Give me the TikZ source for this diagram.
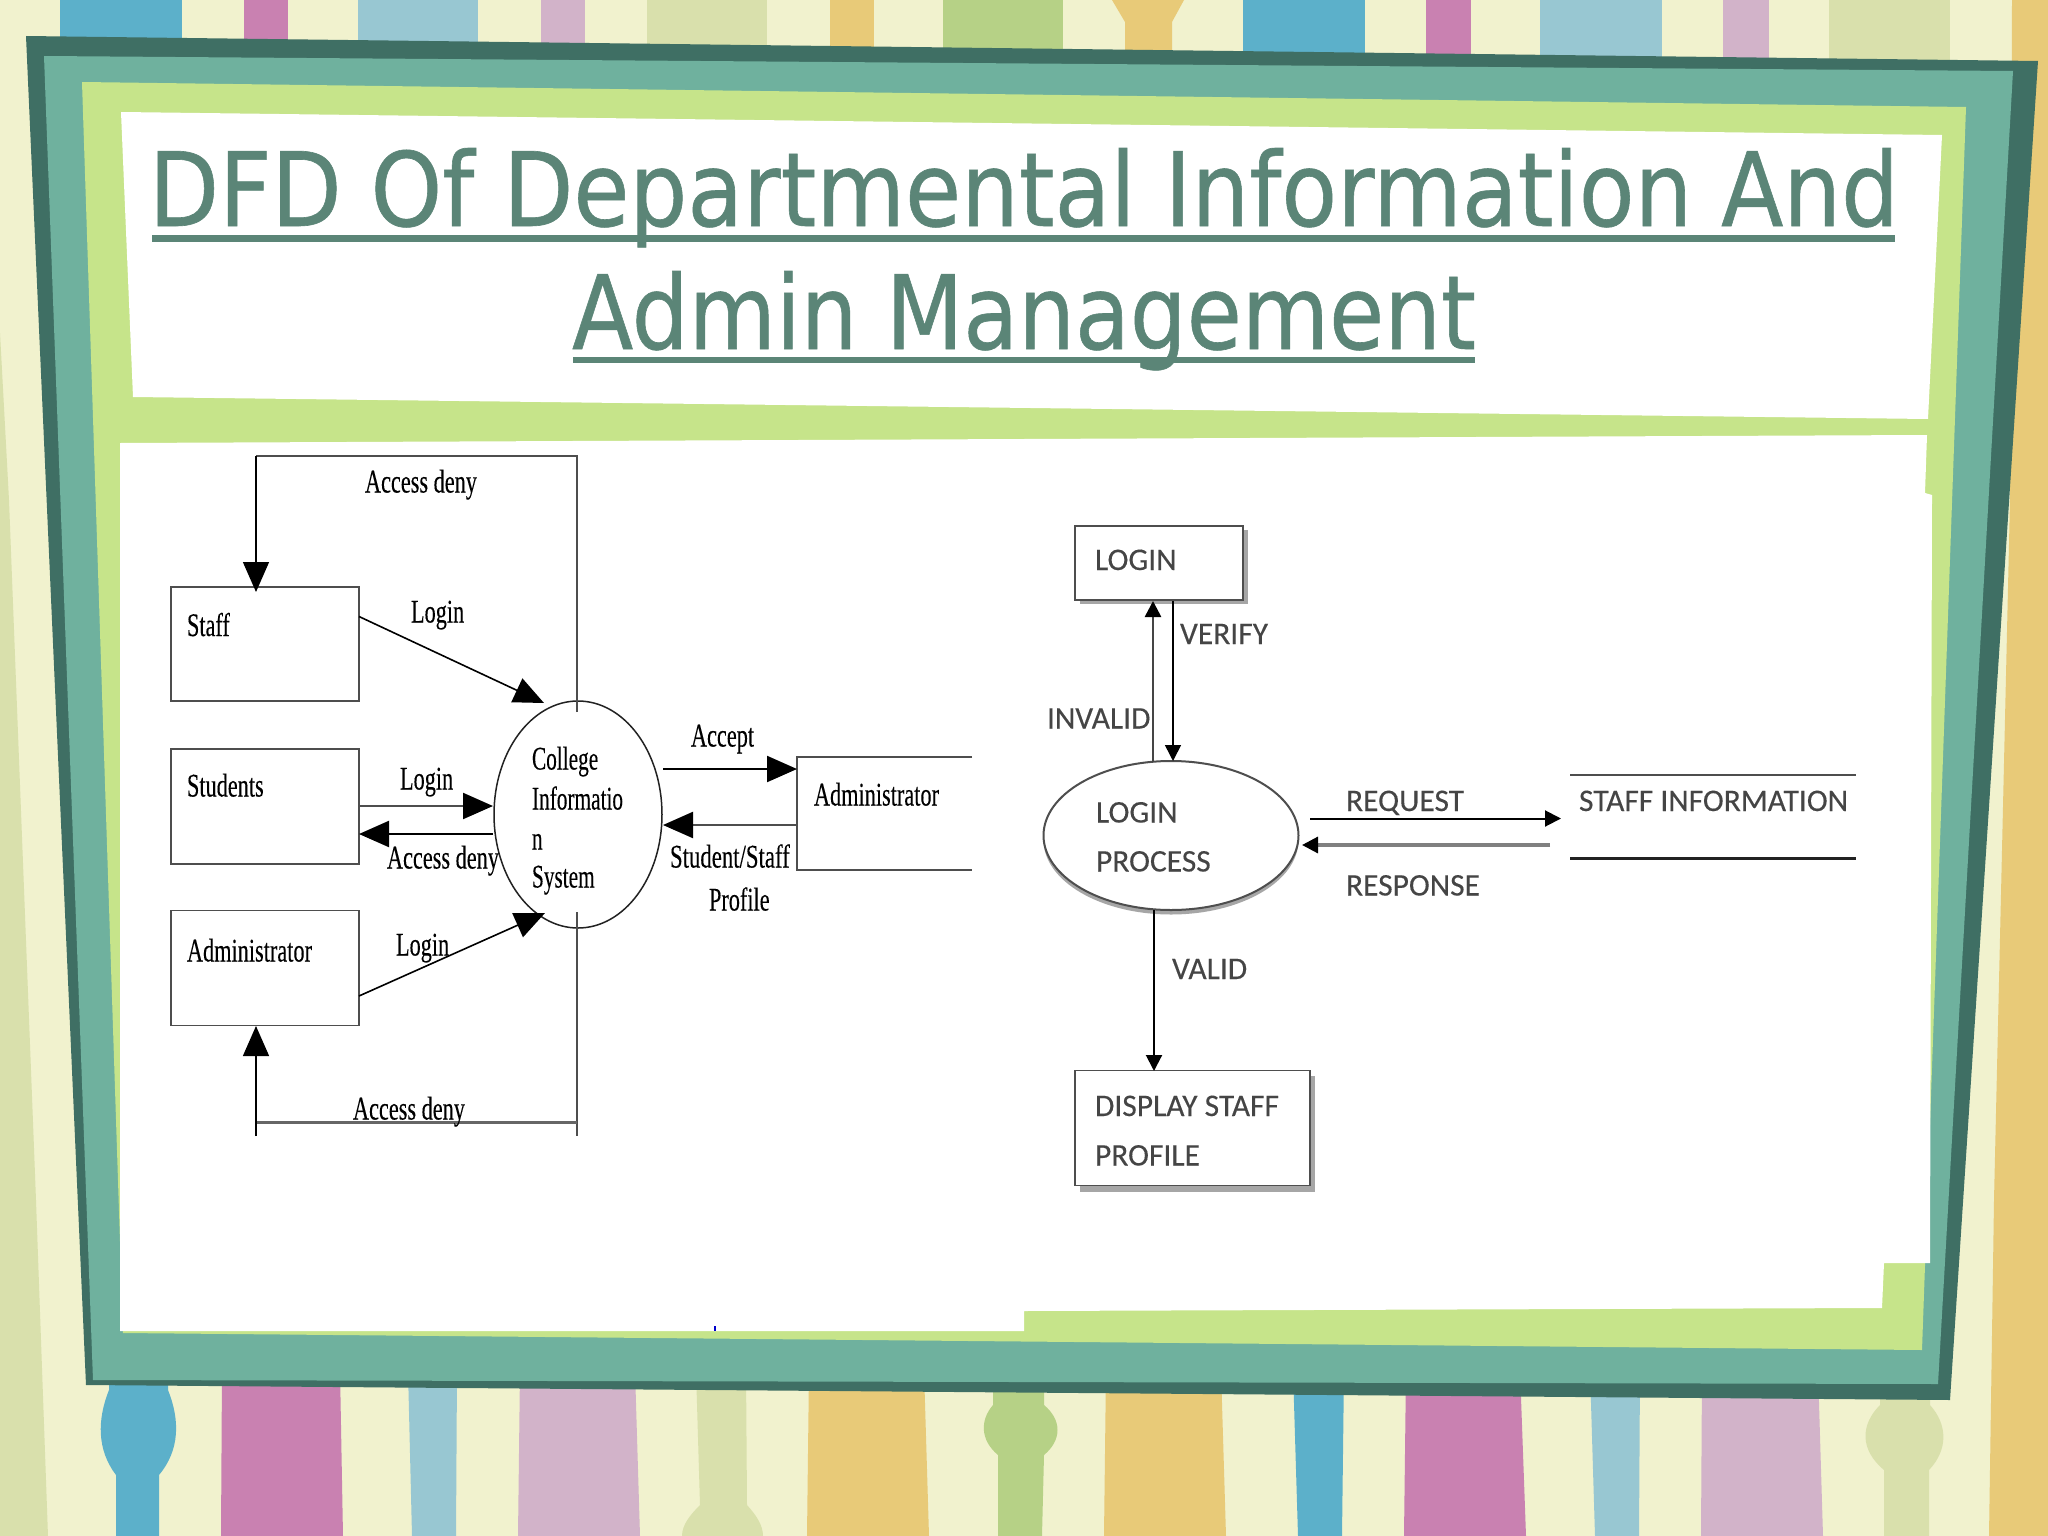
\documentclass[tikz,border=0pt]{standalone}
\usepackage{fontspec}
\usepackage{graphicx}
\setmainfont[FakeBold=0.25]{Liberation Serif}
\newfontfamily\titlefont[FakeBold=0.6]{DejaVu Sans}
\newfontfamily\calfont[FakeBold=0.2]{Carlito}
\usetikzlibrary{arrows.meta,shapes.geometric}
\definecolor{cream}{HTML}{F1F2CE}
\definecolor{sblue}{HTML}{5CB0CA}
\definecolor{spink}{HTML}{C981B1}
\definecolor{slblue}{HTML}{98C7D2}
\definecolor{smauve}{HTML}{D2B3C9}
\definecolor{ssage}{HTML}{D9E0AC}
\definecolor{sorange}{HTML}{E8CA78}
\definecolor{sgreen}{HTML}{B6D186}
\definecolor{framedark}{HTML}{3F6F64}
\definecolor{frameteal}{HTML}{6FB19E}
\definecolor{framegreen}{HTML}{C6E48A}
\definecolor{titlecol}{HTML}{5B8577}
\definecolor{inkA}{HTML}{222222}
\definecolor{inkB}{HTML}{454545}
\newcommand{\ltxt}[1]{\scalebox{.675}[1]{\fontsize{33}{33}\selectfont #1}}
\newcommand{\ltxn}[1]{\scalebox{.645}[1]{\fontsize{33}{33}\selectfont #1}}
\newcommand{\rtxt}[1]{{\calfont\fontsize{31.5}{32}\selectfont #1}}
\tikzset{
  x=1pt,y=-1pt,
  ltext/.style={anchor=base west,inner sep=0pt,outer sep=0pt,text=black},
  rtext/.style={anchor=base west,inner sep=0pt,outer sep=0pt,text=inkB},
  ttext/.style={anchor=base west,inner sep=0pt,outer sep=0pt,text=titlecol},
  lbox/.style={draw=inkA!80,line width=1.6pt,fill=white,inner sep=0pt,outer sep=0pt},
  rbox/.style={draw=inkA!80,line width=1.8pt,fill=white,inner sep=0pt,outer sep=0pt},
  lell/.style={ellipse,draw=inkA,line width=1.5pt,inner sep=0pt,outer sep=0pt},
  rell/.style={ellipse,draw=inkA!80,line width=2pt,fill=white,inner sep=0pt,outer sep=0pt},
  lline/.style={draw=inkA!80,line width=1.1pt},
  larrow/.style={draw=black,line width=1.6pt,-{Triangle[length=30pt,width=26pt,color=black]}},
  rarrow/.style={draw=black,line width=2pt,-{Triangle[length=16pt,width=16pt,color=black]}},
}
\begin{document}
\begin{tikzpicture}
\useasboundingbox (0,0) rectangle (2048,1536);
% background
\fill[cream] (0,0) rectangle (2048,1536);
\fill[ssage] (0,333) -- (9,500) -- (36,1200) -- (48,1536) -- (0,1536) -- cycle;
\fill[sorange] (2012,0) -- (2048,0) -- (2048,1536) -- (1989,1536) -- (1994,1200) -- (2010,500) -- cycle;
% top stripes
\fill[sblue] (60,0) rectangle (182,90);
\fill[spink] (244,0) rectangle (288,90);
\fill[slblue] (358,0) rectangle (478,90);
\fill[smauve] (541,0) rectangle (585,90);
\fill[ssage] (647,0) rectangle (767,90);
\fill[sorange] (830,0) rectangle (874,90);
\fill[sgreen] (943,0) rectangle (1063,90);
\fill[sorange] (1112,0) -- (1184,0) -- (1172,22) -- (1172,90) -- (1125,90) -- (1125,22) -- cycle;
\fill[sblue] (1243,0) rectangle (1365,90);
\fill[spink] (1426,0) rectangle (1471,90);
\fill[slblue] (1540,0) rectangle (1662,90);
\fill[smauve] (1723,0) rectangle (1769,90);
\fill[ssage] (1829,0) rectangle (1950,90);
% bottom stripes
\fill[sblue] (109,1370) -- (109,1390) .. controls (97,1420) and (97,1450) .. (116,1475) -- (116,1536) -- (159,1536) -- (159,1475) .. controls (180,1450) and (180,1420) .. (168,1390) -- (168,1370) -- cycle;
\fill[spink] (222,1370) -- (340,1370) -- (343,1536) -- (221,1536) -- cycle;
\fill[slblue] (408,1370) -- (457,1370) -- (456,1536) -- (412,1536) -- cycle;
\fill[smauve] (520,1370) -- (635,1370) -- (640,1536) -- (518,1536) -- cycle;
\fill[ssage] (696,1370) -- (746,1370) -- (747,1505) .. controls (756,1515) and (763,1525) .. (763,1536) -- (682,1536) .. controls (682,1525) and (690,1515) .. (700,1505) -- cycle;
\fill[sorange] (809,1370) -- (924,1370) -- (929,1536) -- (807,1536) -- cycle;
\fill[sgreen] (993,1370) -- (993,1405) .. controls (980,1420) and (980,1440) .. (998,1455) -- (998,1536) -- (1042,1536) -- (1044,1455) .. controls (1062,1440) and (1062,1420) .. (1044,1405) -- (1044,1370) -- cycle;
\fill[sorange] (1106,1370) -- (1221,1370) -- (1226,1536) -- (1104,1536) -- cycle;
\fill[sblue] (1293,1370) -- (1344,1370) -- (1342,1536) -- (1298,1536) -- cycle;
\fill[spink] (1406,1370) -- (1520,1370) -- (1526,1536) -- (1404,1536) -- cycle;
\fill[slblue] (1590,1370) -- (1640,1370) -- (1639,1536) -- (1595,1536) -- cycle;
\fill[smauve] (1702,1370) -- (1818,1370) -- (1823,1536) -- (1701,1536) -- cycle;
\fill[ssage] (1880,1380) -- (1880,1405) .. controls (1860,1425) and (1860,1450) .. (1884,1470) -- (1884,1536) -- (1929,1536) -- (1929,1470) .. controls (1948,1450) and (1948,1425) .. (1930,1405) -- (1930,1380) -- cycle;
% frame
\fill[framedark] (26,36) -- (2038,61) -- (1950,1400) -- (86,1385) -- cycle;
\fill[frameteal] (44,56) -- (2013,71) -- (1938,1384) -- (93,1380) -- cycle;
\fill[framegreen] (82,82) -- (1966,107) -- (1922,1350) -- (123,1333) -- cycle;
\fill[white] (121,112) -- (1942,135) -- (1928,419) -- (133,397) -- cycle;
\fill[white] (120,443) -- (1927,435) -- (1925,493) -- (1932,495) -- (1930,1263) -- (1884,1263) -- (1882,1308) -- (1024,1311) -- (1024,1331) -- (120,1331) -- cycle;
\fill[blue!80!black] (714,1326) rectangle (716,1331);
% title
\node[ttext] (title1) at (149,226) {\resizebox{1750pt}{78pt}{\titlefont\fontsize{100}{100}\selectfont DFD Of Departmental Information And}};
\node[ttext] (title2) at (572,349) {\resizebox{904pt}{78pt}{\titlefont\fontsize{100}{100}\selectfont Admin Management}};
\fill[titlecol] (152,234.5) rectangle (1895,241.5);
\fill[titlecol] (573,356.5) rectangle (1475,363);
% left diagram
\node[lbox,minimum width=188pt,minimum height=114pt] (staff) at (265,644) {};
\node[lbox,minimum width=188pt,minimum height=115pt] (students) at (265,806.5) {};
\node[lbox,minimum width=188pt,minimum height=115pt] (admin) at (265,968) {};
\node[lell,minimum width=168pt,minimum height=227pt] (cis) at (578,814.5) {};
\coordinate (looptl) at (256,456);
\coordinate (looptr) at (577,456);
\coordinate (loopbl) at (256,1122.5);
\coordinate (loopbr) at (577,1122.5);
\coordinate (loopbe) at (256,1136);
\coordinate (loopbf) at (577,1136);
\coordinate (staffin) at (256,592);
\coordinate (adminin) at (256,1026);
\coordinate (cist) at (577,712);
\coordinate (cisb) at (577,912);
\draw[lline] (cist) -- (looptr) -- (looptl);
\draw[larrow,line width=1.4pt] (looptl) -- (staffin);
\draw[lline] (cisb) -- (loopbf);
\draw[draw=gray!80!black,line width=2.6pt] (loopbl) -- (loopbr);
\draw[larrow,line width=1.4pt] (loopbe) -- (adminin);
\coordinate (st1) at (359,616.5);
\coordinate (st2) at (544,703);
\coordinate (su1) at (359,806);
\coordinate (su2) at (493,806);
\coordinate (su3) at (493,834);
\coordinate (su4) at (359,834);
\coordinate (ad1) at (359,996);
\coordinate (ad2) at (545,913);
\draw[larrow] (st1) -- (st2);
\draw[larrow,line width=2.2pt,draw=inkA!80] (su1) -- (su2);
\draw[larrow,line width=2.2pt] (su3) -- (su4);
\draw[larrow] (ad1) -- (ad2);
% administrator store
\coordinate (as1) at (972,757);
\coordinate (as2) at (797,757);
\coordinate (as3) at (797,870);
\coordinate (as4) at (972,870);
\draw[lline,line width=1.6pt] (as1) -- (as2) -- (as3) -- (as4);
\coordinate (ac1) at (663,769);
\coordinate (ac2) at (797,769);
\coordinate (pr1) at (797,825);
\coordinate (pr2) at (663,825);
\draw[larrow,line width=2.2pt] (ac1) -- (ac2);
\draw[larrow,line width=2.2pt,draw=inkA!80] (pr1) -- (pr2);
% left labels
\node[ltext] (l1) at (365,492.5) {\ltxt{Access deny}};
\node[ltext] (l2) at (187,636) {\ltxt{Staff}};
\node[ltext] (l3) at (411,622.5) {\ltxt{Login}};
\node[ltext] (l4) at (187,796.5) {\ltxt{Students}};
\node[ltext] (l5) at (400,789.5) {\ltxt{Login}};
\node[ltext] (l6) at (387,868.5) {\ltxt{Access deny}};
\node[ltext] (l7) at (187,961.5) {\ltxt{Administrator}};
\node[ltext] (l8) at (396,955.5) {\ltxt{Login}};
\node[ltext] (l9) at (353,1119.5) {\ltxt{Access deny}};
\node[ltext] (c1) at (532,769.5) {\ltxn{College}};
\node[ltext] (c2) at (532,809.5) {\ltxn{Informatio}};
\node[ltext] (c3) at (532,849.5) {\ltxn{n}};
\node[ltext] (c4) at (532,887.5) {\ltxn{System}};
\node[ltext] (l10) at (691,746.5) {\ltxt{Accept}};
\node[ltext] (l11) at (814,805.5) {\ltxt{Administrator}};
\node[ltext] (l12) at (670,867.5) {\scalebox{.69}[1]{\fontsize{33}{33}\selectfont Student/Staff}};
\node[ltext] (l13) at (709,910.5) {\ltxt{Profile}};
% right diagram
\fill[gray!70] (1080,530) rectangle (1248,604);
\fill[gray!70] (1080,1076) rectangle (1315,1192);
\fill[gray!70] (1171,840) ellipse [x radius=127.5,y radius=74.5];
\node[rbox,minimum width=168pt,minimum height=74pt] (login) at (1159,563) {};
\node[rbox,minimum width=235pt,minimum height=115pt] (display) at (1192.5,1128) {};
\node[rell,minimum width=255pt,minimum height=149pt] (proc) at (1171,835.5) {};
\coordinate (in1) at (1153,762);
\coordinate (in2) at (1153,601);
\coordinate (ve1) at (1173,601);
\coordinate (ve2) at (1173,761);
\coordinate (va1) at (1154,910);
\coordinate (va2) at (1154,1071);
\coordinate (re1) at (1310,818.5);
\coordinate (re2) at (1561,818.5);
\coordinate (rs1) at (1550,845);
\coordinate (rs2) at (1302,845);
\coordinate (sd1) at (1570,775);
\coordinate (sd2) at (1856,775);
\coordinate (sd3) at (1570,858.5);
\coordinate (sd4) at (1856,858.5);
\draw[rarrow,draw=inkB,line width=2.6pt] (in1) -- (in2);
\draw[rarrow,line width=1.6pt] (ve1) -- (ve2);
\draw[rarrow] (va1) -- (va2);
\draw[rarrow] (re1) -- (re2);
\draw[rarrow,draw=gray,line width=3.2pt] (rs1) -- (rs2);
\draw[draw=inkA!80,line width=1.6pt] (sd1) -- (sd2);
\draw[draw=inkA,line width=2.2pt] (sd3) -- (sd4);
% right labels
\node[rtext] (r1) at (1095,570) {\rtxt{LOGIN}};
\node[rtext] (r2) at (1180,644) {\rtxt{VERIFY}};
\node[rtext] (r3) at (1047,728.5) {\rtxt{INVALID}};
\node[rtext] (r4) at (1096,822.5) {\rtxt{LOGIN}};
\node[rtext] (r5) at (1096,871.5) {\rtxt{PROCESS}};
\node[rtext] (r6) at (1346,811) {\rtxt{REQUEST}};
\node[rtext] (r7) at (1346,895.5) {\rtxt{RESPONSE}};
\node[rtext] (r8) at (1579,811) {\rtxt{STAFF INFORMATION}};
\node[rtext] (r9) at (1172,979) {\rtxt{VALID}};
\node[rtext] (r10) at (1095,1116) {\rtxt{DISPLAY STAFF}};
\node[rtext] (r11) at (1095,1165.5) {\rtxt{PROFILE}};
\end{tikzpicture}
\end{document}
